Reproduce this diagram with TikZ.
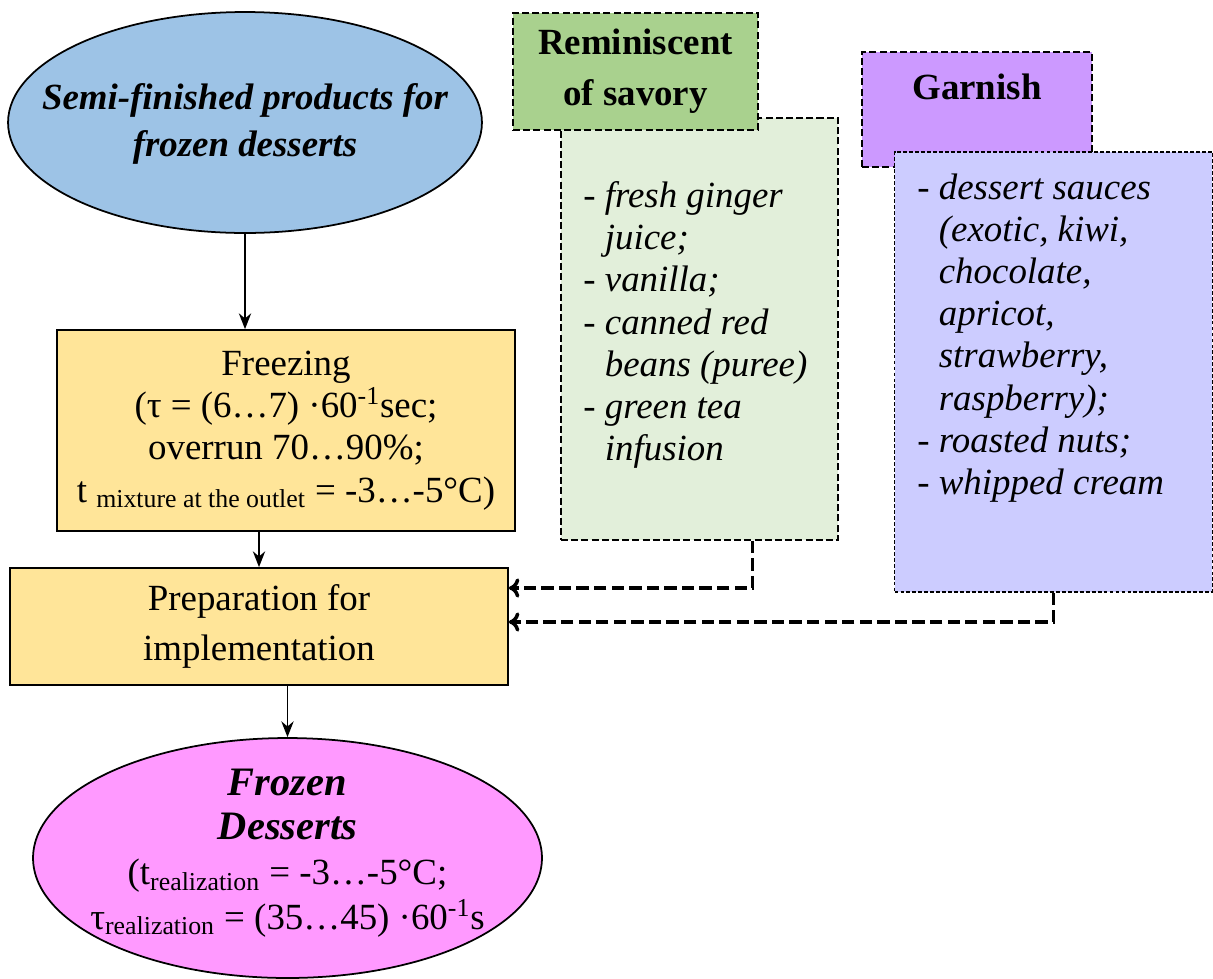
\documentclass[tikz,border=0pt]{standalone}
\usepackage{fontspec}
\setmainfont{Liberation Serif}
\usepackage{tikz}
\usetikzlibrary{positioning, arrows.meta}
\usetikzlibrary{shapes.geometric}
\usepackage{xcolor}

\definecolor{semiblue}{HTML}{9DC3E6}
\definecolor{freezeyellow}{HTML}{FFE599}
\definecolor{frozenpink}{HTML}{FF99FF}
\definecolor{savorygreen}{HTML}{A9D18E}
\definecolor{savorylight}{HTML}{E2EFDA}
\definecolor{garnishviolet}{HTML}{CC99FF}
\definecolor{garnishlight}{HTML}{CCCCFF}

\newcommand{\contline}{\hspace*{0.43cm}}

\begin{document}
\begin{tikzpicture}[x=0.02cm, y=-0.02cm,
	font=\fontsize{21}{24}\selectfont,
	stagebox/.style={draw, line width=1pt, fill=freezeyellow, align=center, inner sep=0pt},
	oval/.style={ellipse, draw, line width=1pt, inner sep=0pt},
	ovaltext/.style={align=center, inner sep=0pt},
	headbox/.style={draw, line width=0.8pt, dash pattern=on 4pt off 1.8pt, inner sep=0pt},
	listtext/.style={align=left, inner sep=0pt, anchor=west, font=\fontsize{21}{24}\selectfont\itshape},
	flow/.style={-{Stealth[length=9pt, width=7pt]}, line width=1pt},
	feed/.style={-{To[length=6pt, width=11pt]}, line width=2pt, dash pattern=on 7pt off 3pt}]
	\useasboundingbox (0,0) rectangle (1213,978);
	% Main line
	\node (semi) [oval, fill=semiblue, minimum width=9.48cm, minimum height=4.42cm] at (245,122.5) {};
	\node (semitext) [ovaltext, font=\fontsize{21}{27}\selectfont\bfseries\itshape] at (245,124)
		{Semi-finished products for\\frozen desserts};
	\node (freezing) [stagebox, minimum width=9.16cm, minimum height=4.02cm] at (286,430.5)
		{Freezing\\(τ = (6…7) ·60\textsuperscript{-1}sec;\\overrun 70…90\%;\\t \textsubscript{mixture at the outlet} = -3…-5°C)};
	\node (prep) [stagebox, minimum width=9.96cm, minimum height=2.34cm,
		font=\fontsize{21}{28}\selectfont] at (259,626.5)
		{Preparation for\\implementation};
	\node (frozen) [oval, fill=frozenpink, minimum width=10.18cm, minimum height=4.8cm] at (287.5,858) {};
	\node (frozentext) [ovaltext, font=\fontsize{21}{25.5}\selectfont] at (287.5,853)
		{{\fontsize{23}{25.5}\selectfont\bfseries\itshape Frozen}\\{\fontsize{23}{25.5}\selectfont\bfseries\itshape Desserts}\\(t\textsubscript{realization} = -3…-5°C;\\τ\textsubscript{realization} = (35…45) ·60\textsuperscript{-1}s};
	% Additions
	\node (savory) [headbox, fill=savorylight, minimum width=5.54cm, minimum height=8.44cm] at (699.5,329) {};
	\node (savorytext) [listtext] at (583,325)
		{- fresh ginger\\\contline juice;\\- vanilla;\\- canned red\\\contline beans (puree)\\- green tea\\\contline infusion};
	\node (reminiscent) [headbox, fill=savorygreen, minimum width=4.9cm, minimum height=2.34cm,
		align=center, font=\fontsize{21}{29}\selectfont\bfseries] at (635.5,71.5)
		{Reminiscent\\of savory};
	\node (garnish) [headbox, fill=garnishviolet, minimum width=4.6cm, minimum height=2.3cm] at (977,109.5) {};
	\node (garnishlabel) [font=\fontsize{21}{24}\selectfont\bfseries, inner sep=0pt] at (977,87) {Garnish};
	\node (garnlist) [headbox, dash pattern=on 2.2pt off 1.2pt, fill=garnishlight, minimum width=6.36cm, minimum height=8.8cm] at (1053.5,372) {};
	\node (garntext) [listtext] at (917,338)
		{- dessert sauces\\\contline (exotic, kiwi,\\\contline chocolate,\\\contline apricot,\\\contline strawberry,\\\contline raspberry);\\- roasted nuts;\\- whipped cream};
	% Connectors
	\draw[flow] (semi.south) -- (semi.south |- freezing.north);
	\draw[flow] (prep.north |- freezing.south) -- (prep.north);
	\draw[flow] (frozen.north |- prep.south) -- (frozen.north);
	\draw[feed] (savory.-76) |- ([yshift=0.77cm]prep.east);
	\draw[feed] (garnlist.south) |- ([yshift=0.09cm]prep.east);
\end{tikzpicture}
\end{document}
